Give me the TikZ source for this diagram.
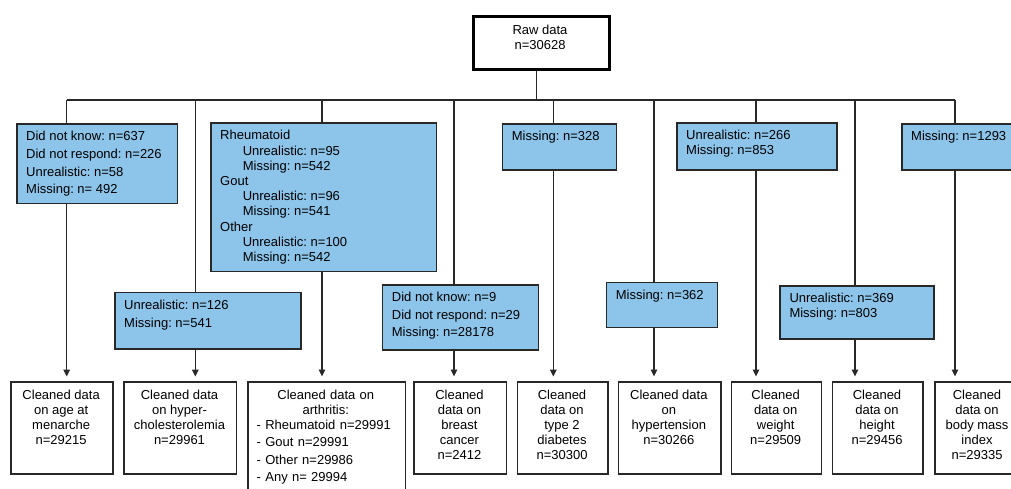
\documentclass[tikz,border=0pt]{standalone}
\usepackage{fontspec}
\setmainfont{Liberation Sans}
\frenchspacing
\usetikzlibrary{arrows.meta}
\definecolor{boxblue}{RGB}{141,196,234}
\definecolor{edge}{RGB}{40,40,40}
\tikzset{
  bluebox/.style={draw=edge, fill=boxblue, line width=1.5pt, inner sep=0pt},
  cleanbox/.style={draw=edge, fill=white, line width=1.5pt, inner sep=0pt},
  rawbox/.style={draw=black, fill=white, line width=3pt, inner sep=0pt},
  btext/.style={inner sep=0pt, align=left},
  ctext/.style={inner sep=0pt, align=center, font=\fontsize{13}{15}\selectfont},
  conn/.style={draw=edge, line width=1.5pt},
  arr/.style={conn, -{Triangle[length=7pt,width=6.5pt]}, shorten >=4.5pt}
}
% #1 baselineskip, #2 name, #3 x1, #4 y1, #5 x2, #6 y2, #7 text
\newcommand\BBox[7][15]{%
  \node[bluebox, minimum width={(#5-#3)*1pt}, minimum height={(#6-#4)*1pt}, anchor=north west] (#2) at (#3,#4) {};
  \node[btext, font=\fontsize{13}{#1}\selectfont\frenchspacing, anchor=north west] (#2t) at (#3+10,#4+8) {#7};
}
% #1 name, #2 x1, #3 x2, #4 text
\newcommand\CBox[4]{%
  \node[cleanbox, minimum width={(#3-#2)*1pt}, minimum height={92.3pt}, anchor=north west] (#1) at (#2,381) {};
  \node[ctext, anchor=north] (#1t) at ({(#2+#3)/2},389.5) {#4};
}
\newcommand\ind{\hspace*{22.6pt}}
\begin{document}
\begin{tikzpicture}[x=1pt,y=-1pt]
\useasboundingbox (0,0) rectangle (1011,488);

% bus coordinates
\coordinate (rj) at (536.7,100);
\coordinate (p1) at (66.7,100);
\coordinate (p2) at (195.3,100);
\coordinate (p3) at (322,100);
\coordinate (p4) at (454,100);
\coordinate (p5) at (553.3,100);
\coordinate (p6) at (654,100);
\coordinate (p7) at (756,100);
\coordinate (p8) at (855,100);
\coordinate (p9) at (955,100);

% raw data
\node[rawbox, minimum width=136pt, minimum height=53pt, anchor=north west] (raw) at (472,15) {};
\node[ctext, anchor=north] (rawt) at (540,24.4) {Raw data\\n=30628};

% exclusion boxes (e_i sits on branch p_i)
\BBox[17.6]{e1}{16}{123.3}{176.7}{202.7}{Did not know: n=637\\Did not respond: n=226\\Unrealistic: n=58\\Missing: n= 492}
\BBox[15.2]{e3}{210}{122.3}{435.7}{270.7}{Rheumatoid\\\ind Unrealistic: n=95\\\ind Missing: n=542\\Gout\\\ind Unrealistic: n=96\\\ind Missing: n=541\\Other\\\ind Unrealistic: n=100\\\ind Missing: n=542}
\BBox{e5}{501.7}{123}{615.7}{169.3}{Missing: n=328}
\BBox{e7}{676}{122.3}{836.3}{169.3}{Unrealistic: n=266\\Missing: n=853}
\BBox{e9}{901}{123.3}{1040}{169.3}{Missing: n=1293}
\BBox[18]{e2}{114}{291.7}{300.3}{348}{Unrealistic: n=126\\Missing: n=541}
\BBox[17.5]{e4}{381.7}{284.3}{537.7}{349.3}{Did not know: n=9\\Did not respond: n=29\\Missing: n=28178}
\BBox{e6}{605.7}{281.7}{716.7}{326.7}{Missing: n=362}
\BBox[14.6]{e8}{779.3}{285}{933.3}{338.3}{Unrealistic: n=369\\Missing: n=803}

% cleaned data boxes
\CBox{c1}{10.3}{112}{Cleaned data\\on age at\\menarche\\n=29215}
\CBox{c2}{123.3}{235.7}{Cleaned data\\on hyper-\\cholesterolemia\\n=29961}
\node[cleanbox, minimum width=157.7pt, minimum height=120pt, anchor=north west] (c3) at (247,381) {};
\node[inner sep=0pt, align=left, text width=138.2pt, font=\fontsize{13}{15}\selectfont, anchor=north] (c3t) at (325.8,389.5)
  {\makebox[\linewidth]{Cleaned data on}\\\makebox[\linewidth]{arthritis:}\\- Rheumatoid n=29991\\[2.5pt]- Gout n=29991\\[2.5pt]- Other n=29986\\[2.5pt]- Any n= 29994};
\CBox{c4}{413.3}{505.7}{Cleaned\\data on\\breast\\cancer\\n=2412}
\CBox{c5}{516.7}{607.3}{Cleaned\\data on\\type 2\\diabetes\\n=30300}
\CBox{c6}{617.7}{720}{Cleaned data\\on\\hypertension\\n=30266}
\CBox{c7}{730.7}{820.7}{Cleaned\\data on\\weight\\n=29509}
\CBox{c8}{831.7}{922.3}{Cleaned\\data on\\height\\n=29456}
\CBox{c9}{934}{1020}{Cleaned\\data on\\body mass\\index\\n=29335}

% connectors
\draw[conn] (raw.south -| rj) -- (rj);
\draw[conn] (p1) -- (p9);
\foreach \i in {1,...,9}{
  \draw[conn] (p\i) -- (p\i |- e\i.north);
  \draw[arr] (p\i |- e\i.south) -- (p\i |- c\i.north);
}
\end{tikzpicture}
\end{document}
